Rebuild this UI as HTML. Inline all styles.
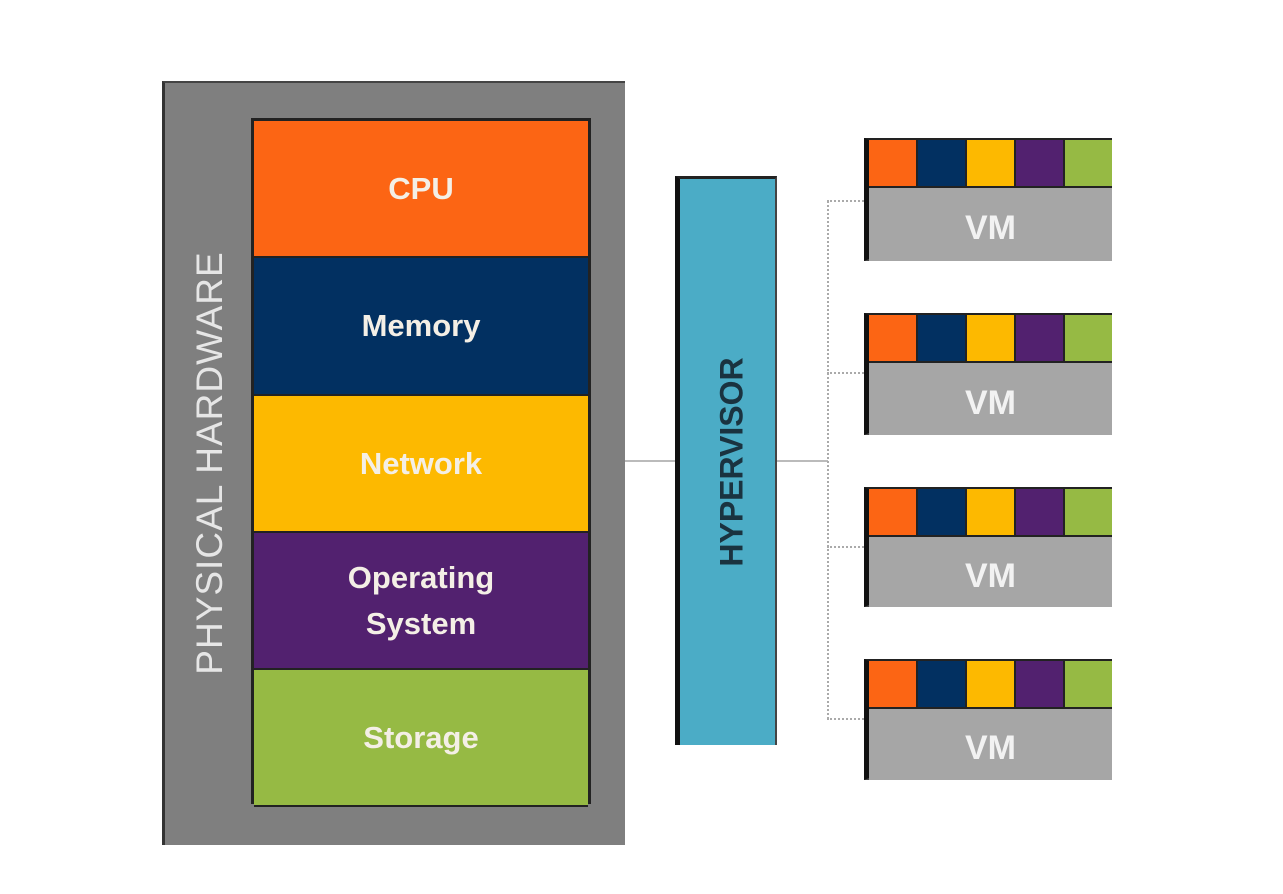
<!DOCTYPE html>
<html><head><style>
body{margin:0;width:1283px;height:894px;background:#fff;position:relative;overflow:hidden;font-family:"Liberation Sans",sans-serif;}
.a{position:absolute;box-sizing:border-box;}
.seg{position:absolute;left:0;width:100%;color:#f4efe6;font-weight:bold;font-size:31px;display:flex;align-items:center;justify-content:center;text-align:center;line-height:46px;border-bottom:2px solid #222;box-sizing:border-box;}
.vm{position:absolute;left:864px;width:248px;border-left:5px solid #111;border-top:2px solid #222;border-bottom:2px solid #444;box-sizing:border-box;}
.band{display:flex;height:46px;border-bottom:2px solid #222;}
.band div{flex:1;border-right:2px solid #222;}
.band div:last-child{border-right:none;}
.vmb{background:#a6a6a6;color:#f2f2f2;font-weight:bold;font-size:34px;display:flex;align-items:center;justify-content:center;padding-top:8px;box-sizing:border-box;}
</style></head><body>
<div class="a" style="left:162px;top:81px;width:463px;height:764px;background:#7f7f7f;border-left:3px solid #333;border-top:2px solid #444;"></div>
<div class="a" style="left:150px;top:463px;width:120px;height:0;">
<div style="position:absolute;left:60px;top:0;transform:translate(-50%,-50%) rotate(-90deg);white-space:nowrap;color:#e6e6e6;font-size:37px;letter-spacing:1px;">PHYSICAL HARDWARE</div></div>
<div class="a" style="left:251px;top:118px;width:340px;height:686px;border:3px solid #222;border-bottom:none;">
<div class="seg" style="top:0;height:137px;background:#fc6514;">CPU</div>
<div class="seg" style="top:137px;height:138px;background:#023061;">Memory</div>
<div class="seg" style="top:275px;height:137px;background:#fdb900;">Network</div>
<div class="seg" style="top:412px;height:137px;background:#52216f;">Operating<br>System</div>
<div class="seg" style="top:549px;height:137px;background:#96ba44;">Storage</div>
</div>
<div class="a" style="left:625px;top:460px;width:50px;height:2px;background:#bbb;"></div>
<div class="a" style="left:777px;top:460px;width:51px;height:2px;background:#bbb;"></div>
<div class="a" style="left:827px;top:201px;width:0;height:518px;border-left:2px dotted #aaa;"></div>
<div class="a" style="left:827px;top:200px;width:37px;border-top:2px dotted #aaa;"></div>
<div class="a" style="left:827px;top:372px;width:37px;border-top:2px dotted #aaa;"></div>
<div class="a" style="left:827px;top:546px;width:37px;border-top:2px dotted #aaa;"></div>
<div class="a" style="left:827px;top:718px;width:37px;border-top:2px dotted #aaa;"></div>
<div class="a" style="left:675px;top:176px;width:102px;height:569px;background:#4bacc6;border-left:5px solid #111;border-top:3px solid #222;border-right:2px solid #444;"></div>
<div class="a" style="left:675px;top:462px;width:110px;height:0;">
<div style="position:absolute;left:57px;top:0;transform:translate(-50%,-50%) rotate(-90deg);white-space:nowrap;color:#1a3340;font-size:32px;font-weight:bold;">HYPERVISOR</div></div>

<div class="vm" style="top:138px;height:123px;"><div class="band"><div style="background:#fc6514"></div><div style="background:#023061"></div><div style="background:#fdb900"></div><div style="background:#52216f"></div><div style="background:#96ba44"></div></div><div class="vmb" style="height:73px">VM</div></div>
<div class="vm" style="top:313px;height:122px;"><div class="band"><div style="background:#fc6514"></div><div style="background:#023061"></div><div style="background:#fdb900"></div><div style="background:#52216f"></div><div style="background:#96ba44"></div></div><div class="vmb" style="height:72px">VM</div></div>
<div class="vm" style="top:487px;height:120px;"><div class="band"><div style="background:#fc6514"></div><div style="background:#023061"></div><div style="background:#fdb900"></div><div style="background:#52216f"></div><div style="background:#96ba44"></div></div><div class="vmb" style="height:70px">VM</div></div>
<div class="vm" style="top:659px;height:121px;"><div class="band"><div style="background:#fc6514"></div><div style="background:#023061"></div><div style="background:#fdb900"></div><div style="background:#52216f"></div><div style="background:#96ba44"></div></div><div class="vmb" style="height:71px">VM</div></div>
</body></html>
